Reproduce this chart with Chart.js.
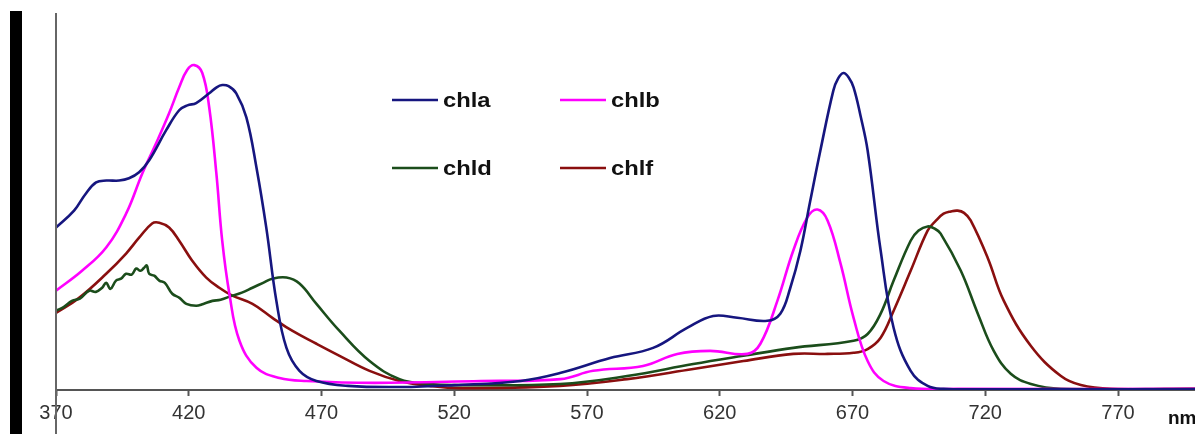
<!DOCTYPE html>
<html>
<head>
<meta charset="utf-8">
<script src="https://cdn.jsdelivr.net/npm/chart.js@4.4.1/dist/chart.umd.min.js"></script>
<style>
  html, body { margin: 0; padding: 0; background: #fff; overflow: hidden; }
  .wrap { position: relative; width: 1195px; height: 434px; }
  .side-bar { position: absolute; left: 10px; top: 11px; width: 12px; height: 423px; background: #000; }
  canvas { position: absolute; left: 0; top: 0; }
</style>
</head>
<body>
<div class="wrap">
  <div class="side-bar"></div>
  <canvas id="specChart" width="1195" height="434"></canvas>
</div>
<script>
// ── Data (wavelength in nm, relative absorbance) ──
const xTicks = [370, 420, 470, 520, 570, 620, 670, 720, 770];

const chlaNm  = [370, 376.8, 381, 385.1, 389, 393.8, 397.5, 401.3, 405.1, 411.5, 416.4, 419.5, 422.8, 427.7, 430.5, 432.6, 435, 437.9, 441.7, 445.5, 449.2, 453, 456.8, 461.7, 468.1, 480, 500, 520, 545, 559.8, 578.7, 594.9, 607.7, 617.5, 626.6, 637.9, 642.8, 646.5, 650.4, 654, 657.9, 662.8, 664.6, 666.6, 668.5, 670.4, 673, 675.7, 680.6, 685.5, 691.9, 698.3, 704.3, 720, 799];
const chlaAbs = [0.432, 0.477, 0.52, 0.552, 0.557, 0.557, 0.563, 0.579, 0.611, 0.691, 0.744, 0.757, 0.763, 0.789, 0.805, 0.811, 0.808, 0.789, 0.725, 0.592, 0.432, 0.237, 0.112, 0.051, 0.024, 0.011, 0.008, 0.013, 0.024, 0.045, 0.085, 0.112, 0.165, 0.197, 0.192, 0.184, 0.203, 0.27, 0.371, 0.5, 0.637, 0.797, 0.829, 0.843, 0.832, 0.805, 0.73, 0.637, 0.371, 0.165, 0.051, 0.011, 0.003, 0.002, 0.002];

const chlbNm  = [370, 379.8, 388.9, 396.4, 402.5, 407.7, 412.6, 416.4, 419.4, 422.1, 425.1, 427.7, 430.4, 432.6, 435.3, 439.1, 445.5, 454.2, 464.3, 490, 530, 560, 572.3, 591.1, 604, 616.4, 630.4, 635.3, 641.7, 647.7, 653, 656.8, 660.6, 665.5, 670.4, 675.7, 681.7, 691.9, 710, 799];
const chlbAbs = [0.264, 0.317, 0.379, 0.469, 0.576, 0.656, 0.736, 0.805, 0.851, 0.864, 0.843, 0.752, 0.576, 0.397, 0.256, 0.131, 0.059, 0.032, 0.024, 0.019, 0.024, 0.029, 0.051, 0.064, 0.096, 0.104, 0.096, 0.123, 0.237, 0.371, 0.459, 0.48, 0.451, 0.336, 0.192, 0.077, 0.024, 0.005, 0.003, 0.003];

const chldNm  = [370, 373, 376, 379, 382.5, 385, 387.4, 388.9, 390.5, 392.6, 394.5, 396.4, 398.5, 400.2, 401.8, 403.2, 404.2, 405.1, 407, 408.9, 411, 413.8, 416.5, 419.1, 422.8, 425.5, 428.9, 432, 436.4, 440, 444, 448, 451.5, 456.8, 461.7, 468.1, 476.8, 488.1, 499.4, 510.8, 519.4, 559.8, 585.1, 610, 628.9, 647.7, 670.4, 675.7, 680.6, 685.5, 691.9, 694.9, 698.3, 701, 703.2, 710.8, 717.2, 723.2, 729.6, 737.2, 748.5, 799];
const chldAbs = [0.211, 0.221, 0.237, 0.243, 0.264, 0.261, 0.272, 0.285, 0.269, 0.291, 0.296, 0.309, 0.307, 0.323, 0.317, 0.325, 0.331, 0.309, 0.304, 0.291, 0.285, 0.256, 0.245, 0.229, 0.224, 0.229, 0.237, 0.24, 0.251, 0.259, 0.272, 0.285, 0.296, 0.299, 0.283, 0.229, 0.157, 0.077, 0.029, 0.016, 0.013, 0.016, 0.037, 0.069, 0.091, 0.112, 0.131, 0.149, 0.203, 0.291, 0.397, 0.424, 0.435, 0.429, 0.416, 0.317, 0.203, 0.104, 0.043, 0.016, 0.003, 0.003];

const chlfNm  = [370, 378.7, 388.9, 396.4, 401.3, 406.2, 408.9, 412.6, 416.4, 421.3, 426.6, 431.5, 436.4, 444, 451.5, 459.1, 468.1, 476.8, 488.1, 499.4, 510.8, 522.1, 559.8, 585.1, 610, 628.9, 647.7, 660.6, 670.4, 675.7, 680.6, 685.5, 691.9, 698.3, 701.5, 704.3, 707, 709.6, 712, 714.5, 720.9, 727, 737.2, 748.5, 756, 767.4, 799];
const chlfAbs = [0.205, 0.245, 0.309, 0.363, 0.405, 0.443, 0.445, 0.432, 0.397, 0.344, 0.299, 0.272, 0.251, 0.229, 0.192, 0.157, 0.123, 0.091, 0.051, 0.024, 0.011, 0.005, 0.011, 0.029, 0.056, 0.077, 0.096, 0.096, 0.099, 0.109, 0.139, 0.211, 0.317, 0.424, 0.451, 0.469, 0.475, 0.477, 0.471, 0.451, 0.352, 0.237, 0.117, 0.037, 0.013, 0.003, 0.003];

function toPoints(xs, ys) {
  const pts = [];
  for (let i = 0; i < xs.length; i++) {
    pts.push({ x: xs[i], y: ys[i] });
  }
  return pts;
}

function makeSet(label, xs, ys, color) {
  return {
    label: label,
    data: toPoints(xs, ys),
    borderColor: color,
    backgroundColor: color,
    borderWidth: 2.6,
    pointRadius: 0,
    fill: false,
    tension: 0.4
  };
}

// ── Plugins: y axis line, 2x2 legend, unit label ──
const decorPlugin = {
  id: 'decor',
  afterDraw(chart) {
    const ctx = chart.ctx;
    const area = chart.chartArea;

    // y axis line runs down past the x axis
    ctx.save();
    ctx.strokeStyle = '#666';
    ctx.lineWidth = 2;
    ctx.beginPath();
    ctx.moveTo(area.left, area.top - 1);
    ctx.lineTo(area.left, chart.height);
    ctx.stroke();
    ctx.restore();

    // legend, two columns and two rows
    const cols = [392, 560];
    const rows = [100, 168];
    const sets = chart.data.datasets;
    for (let i = 0; i < sets.length; i++) {
      const lx = cols[i % 2];
      const ly = rows[Math.floor(i / 2)];
      ctx.save();
      ctx.strokeStyle = sets[i].borderColor;
      ctx.lineWidth = 2.6;
      ctx.beginPath();
      ctx.moveTo(lx, ly);
      ctx.lineTo(lx + 46, ly);
      ctx.stroke();
      ctx.translate(lx + 51, ly + 7);
      ctx.scale(1.22, 1);
      ctx.fillStyle = '#111';
      ctx.font = 'bold 19.5px "Liberation Sans", Arial, sans-serif';
      ctx.textBaseline = 'alphabetic';
      ctx.fillText(sets[i].label, 0, 0);
      ctx.restore();
    }

    // unit label, clipped at the right edge
    ctx.save();
    ctx.fillStyle = '#111';
    ctx.font = 'bold 19px "Liberation Sans", Arial, sans-serif';
    ctx.textBaseline = 'alphabetic';
    ctx.fillText('nm', 1168, 424);
    ctx.restore();
  }
};

// ── Chart ──
const ctx = document.getElementById('specChart').getContext('2d');
const specChart = new Chart(ctx, {
  type: 'line',
  data: {
    datasets: [
      makeSet('chla', chlaNm, chlaAbs, '#16167f'),
      makeSet('chlb', chlbNm, chlbAbs, '#ff00ff'),
      makeSet('chld', chldNm, chldAbs, '#1b4d1b'),
      makeSet('chlf', chlfNm, chlfAbs, '#8a0f0f')
    ]
  },
  options: {
    responsive: false,
    animation: false,
    layout: { padding: { left: 56, top: 14, right: 0, bottom: 4 } },
    plugins: {
      legend: { display: false },
      tooltip: { enabled: false }
    },
    scales: {
      x: {
        type: 'linear',
        min: 370,
        max: 799,
        afterBuildTicks: axis => { axis.ticks = xTicks.map(v => ({ value: v })); },
        border: { display: true, color: '#555', width: 2 },
        grid: { drawOnChartArea: false, drawTicks: true, tickLength: 6, tickColor: '#555', tickWidth: 2 },
        ticks: {
          color: '#333',
          padding: 5,
          maxRotation: 0,
          autoSkip: false,
          font: { family: '"Liberation Sans", Arial, sans-serif', size: 20 }
        }
      },
      y: {
        display: false,
        min: 0,
        max: 1
      }
    }
  },
  plugins: [decorPlugin]
});
</script>
</body>
</html>
